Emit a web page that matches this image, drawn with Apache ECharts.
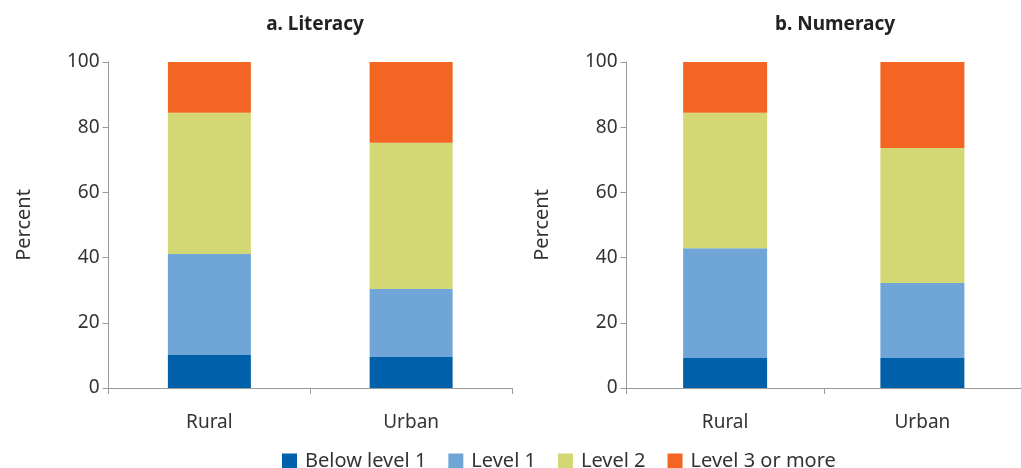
<!DOCTYPE html>
<html>
<head>
<meta charset="utf-8">
<script src="https://cdn.jsdelivr.net/npm/echarts@6/dist/echarts.min.js"></script>
<style>
html,body{margin:0;padding:0;background:#fff;}
#chart{width:1021px;height:468px;}
</style>
</head>
<body>
<div id="chart"></div>
<script>
var categories = ["Rural", "Urban"];
var levelNames = ["Below level 1", "Level 1", "Level 2", "Level 3 or more"];
var levelColors = ["#0061aa", "#70a5d7", "#d4d874", "#f26522"];
// literacy, by level (rural, urban)
var literacyBelow1 = [10.1, 9.5];
var literacyLevel1 = [31.0, 20.9];
var literacyLevel2 = [43.3, 44.8];
var literacyLevel3 = [15.6, 24.9];
// numeracy, by level (rural, urban)
var numeracyBelow1 = [9.2, 9.2];
var numeracyLevel1 = [33.7, 23.0];
var numeracyLevel2 = [41.5, 41.4];
var numeracyLevel3 = [15.6, 26.4];
var yTicks = [0, 20, 40, 60, 80, 100];

var font = "Noto Sans";
var literacy = [literacyBelow1, literacyLevel1, literacyLevel2, literacyLevel3];
var numeracy = [numeracyBelow1, numeracyLevel1, numeracyLevel2, numeracyLevel3];

function xAxis(idx) {
    return {
        type: "category", gridIndex: idx, data: categories,
        axisLine: {lineStyle: {color: "#9a9a9a", width: 1}},
        axisTick: {show: true, length: 6, lineStyle: {color: "#9a9a9a"}},
        axisLabel: {color: "#333", fontSize: 19, fontFamily: font, margin: 25}
    };
}
function yAxis(idx) {
    return {
        type: "value", gridIndex: idx, min: yTicks[0], max: yTicks[yTicks.length - 1], interval: 20,
        name: "Percent", nameLocation: "middle", nameGap: 74, nameRotate: 90,
        nameTextStyle: {color: "#333", fontSize: 20, fontFamily: font},
        axisLine: {show: true, lineStyle: {color: "#9a9a9a", width: 1}},
        axisTick: {show: true, length: 6, lineStyle: {color: "#9a9a9a"}},
        axisLabel: {color: "#333", fontSize: 19, fontFamily: font, margin: 9},
        splitLine: {show: false}
    };
}

var series = [];
for (var i = 0; i < levelNames.length; i++) {
    series.push({
        name: levelNames[i], type: "bar", stack: "lit", xAxisIndex: 0, yAxisIndex: 0,
        barWidth: 83, itemStyle: {color: levelColors[i]}, data: literacy[i]
    });
}
for (i = 0; i < levelNames.length; i++) {
    series.push({
        name: levelNames[i], type: "bar", stack: "num", xAxisIndex: 1, yAxisIndex: 1,
        barWidth: 84, itemStyle: {color: levelColors[i]}, data: numeracy[i]
    });
}

var option = {
    animation: false,
    backgroundColor: "#fff",
    title: [
        {text: "a. Literacy", left: 310, top: 10, textAlign: "center",
            textStyle: {fontSize: 19, fontWeight: "bold", color: "#222", fontFamily: font}},
        {text: "b. Numeracy", left: 830, top: 10, textAlign: "center",
            textStyle: {fontSize: 19, fontWeight: "bold", color: "#222", fontFamily: font}}
    ],
    legend: {
        left: 277, top: 446, itemWidth: 15, itemHeight: 15, itemGap: 22,
        icon: "rect",
        textStyle: {color: "#333", fontSize: 20, fontFamily: font, padding: [0, 0, 0, 3]},
        data: levelNames
    },
    grid: [
        {left: 108.5, right: 509, top: 62, bottom: 80},
        {left: 626.5, right: -14, top: 62, bottom: 80}
    ],
    xAxis: [xAxis(0), xAxis(1)],
    yAxis: [yAxis(0), yAxis(1)],
    series: series
};

var myChart = echarts.init(document.getElementById("chart"));
myChart.setOption(option);
</script>
</body>
</html>
